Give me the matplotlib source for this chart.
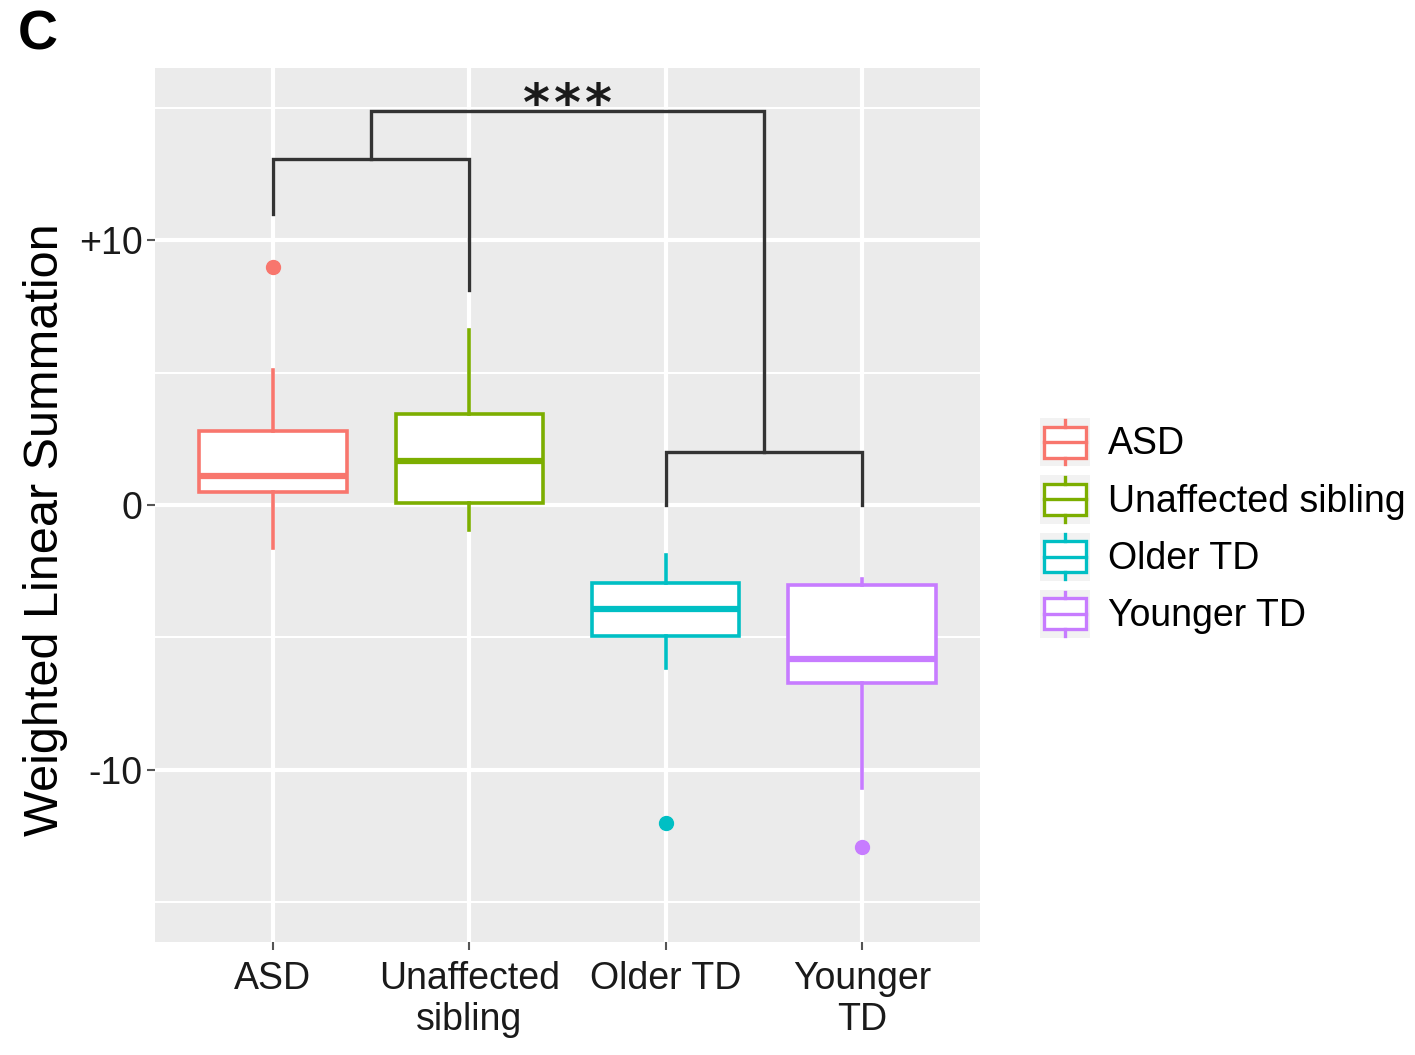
import matplotlib
matplotlib.use("Agg")
import matplotlib.pyplot as plt
from matplotlib.legend_handler import HandlerBase
from matplotlib.patches import Rectangle
from matplotlib.lines import Line2D

plt.rcParams['font.family'] = ['Liberation Sans', 'DejaVu Sans']

# datos
grupos = ['ASD', 'Unaffected sibling', 'Older TD', 'Younger TD']
etiquetas_x = ['ASD', 'Unaffected\nsibling', 'Older TD', 'Younger\nTD']
colores = ['#F8766D', '#7CAE00', '#00BFC4', '#C77CFF']

mediana = [1.1, 1.66, -3.92, -5.81]
q1 = [0.49, 0.08, -4.94, -6.72]
q3 = [2.79, 3.43, -2.94, -3.02]
bigote_inf = [-1.62, -0.94, -6.15, -10.68]
bigote_sup = [5.09, 6.6, -1.89, -2.79]
atipicos = [[9.0], [], [-12.0], [-12.9]]

# corchetes del dendrograma: (x izq, x der, altura, base izq, base der)
corchetes = [
    (1, 2, 13.05, 11.0, 8.1),
    (3, 4, 2.0, 0.0, 0.0),
    (1.5, 3.5, 14.87, 13.05, 2.0),
]
signif = ['*', '*', '*']

yticks = [-10, 0, 10]
ytick_labels = ['-10', '0', '+10']


class CajaLeyenda(HandlerBase):
    def create_artists(self, legend, orig_handle, xd, yd, width, height, fontsize, trans):
        c = orig_handle.get_edgecolor()
        x0, y0 = -xd, -yd
        fondo = Rectangle((x0, y0), width, height, facecolor='#F2F2F2', edgecolor='none', transform=trans)
        caja = Rectangle((x0 + 0.08 * width, y0 + 0.18 * height), 0.84 * width, 0.64 * height,
                         facecolor='white', edgecolor=c, lw=2.4, transform=trans)
        med = Line2D([x0 + 0.08 * width, x0 + 0.92 * width], [y0 + 0.5 * height] * 2, color=c, lw=2.4, transform=trans)
        b1 = Line2D([x0 + width / 2] * 2, [y0 + 0.04 * height, y0 + 0.18 * height], color=c, lw=2.4, transform=trans)
        b2 = Line2D([x0 + width / 2] * 2, [y0 + 0.82 * height, y0 + 0.96 * height], color=c, lw=2.4, transform=trans)
        return [fondo, caja, med, b1, b2]


fig = plt.figure(figsize=(14.15, 10.55), dpi=100)
ax = fig.add_axes([155 / 1415, 1 - 942 / 1055, 825 / 1415, 874 / 1055])
ax.set_facecolor('#EBEBEB')
for s in ax.spines.values():
    s.set_visible(False)

posiciones = list(range(1, len(grupos) + 1))
stats = []
for i in range(len(grupos)):
    stats.append(dict(med=mediana[i], q1=q1[i], q3=q3[i],
                      whislo=bigote_inf[i], whishi=bigote_sup[i], fliers=atipicos[i]))

bp = ax.bxp(stats, positions=posiciones, widths=0.75, showcaps=False, patch_artist=True)
for i, c in enumerate(colores):
    bp['boxes'][i].set(facecolor='white', edgecolor=c, linewidth=2.6, zorder=3)
    bp['medians'][i].set(color=c, linewidth=4.5, zorder=4)
    for w in bp['whiskers'][2 * i:2 * i + 2]:
        w.set(color=c, linewidth=2.6, zorder=3)
    bp['fliers'][i].set(marker='o', markerfacecolor=c, markeredgecolor=c, markersize=10, zorder=3)

# corchetes
for xi, xd_, h, bi, bd in corchetes:
    ax.plot([xi, xi, xd_, xd_], [bi, h, h, bd], color='#333333', lw=2.4, zorder=5, solid_joinstyle='miter')
for k, s in enumerate(signif):
    ax.text(2.5 + (k - 1) * 0.158, 14.55, s, ha='center', va='baseline', fontsize=37,
            fontweight='bold', color='#1a1a1a', family='DejaVu Sans')

ax.set_xlim(0.4, 4.6)
ax.set_ylim(-16.5, 16.5)
ax.set_xticks(posiciones)
ax.set_xticklabels(etiquetas_x, fontsize=27, color='#1a1a1a', linespacing=1.15)
ax.set_yticks(yticks)
ax.set_yticklabels(ytick_labels, fontsize=27, color='#1a1a1a')
ax.set_yticks([-15, -5, 5, 15], minor=True)
ax.tick_params(axis='both', which='major', length=6, width=1.5, color='#555555')
ax.tick_params(axis='x', which='major', pad=8)
ax.tick_params(axis='y', which='major', pad=3)
ax.tick_params(axis='y', which='minor', length=0)
ax.grid(True, which='major', color='white', lw=3)
ax.grid(True, which='minor', axis='y', color='white', lw=1.5)
ax.set_axisbelow(True)
ax.set_ylabel('Weighted Linear Summation', fontsize=35, color='black')
ax.yaxis.set_label_coords(-0.105, (942 - 530) / 874)

fig.text(18 / 1415, 1 - 10 / 1055, 'C', fontsize=40, fontweight='bold', va='top', ha='left')

proxies = [Rectangle((0, 0), 1, 1, edgecolor=c, facecolor='white') for c in colores]
fig.legend(proxies, grupos, handler_map={Rectangle: CajaLeyenda()}, loc='center left',
           bbox_to_anchor=(1040 / 1415, 1 - 528 / 1055), frameon=False, fontsize=27,
           handlelength=1.33, handleheight=1.6, labelspacing=0.24, handletextpad=0.48, borderpad=0,
           borderaxespad=0)

fig.savefig('out.png', dpi=100)
